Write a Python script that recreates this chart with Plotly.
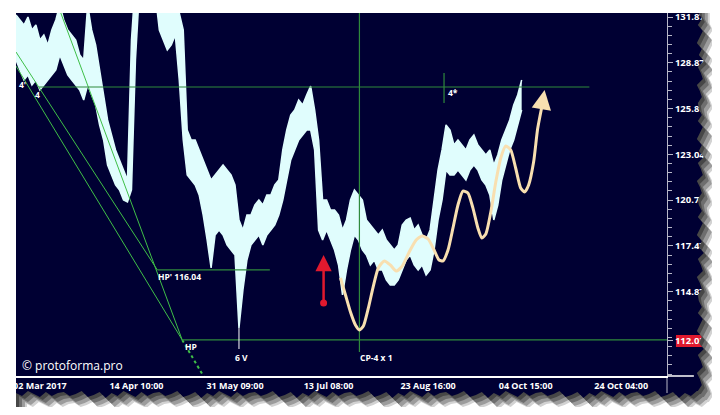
import plotly.graph_objects as go

# ---------------- data ----------------
price_high = [131.93, 131.61, 131.29, 131.80, 130.97, 131.29, 130.33, 130.65, 130.01, 130.97,
              131.61, 132.57, 131.61, 130.97, 130.65, 130.33, 129.37, 129.05, 132.57, 130.97,
              130.01, 128.41, 126.81, 125.21, 124.25, 123.29, 122.65, 122.01, 121.37, 130.33,
              134.17, 135.45, 136.09, 136.73, 136.09, 135.45, 132.89, 132.57, 132.25, 132.57,
              132.25, 132.06, 130.97, 124.57, 123.93, 123.93, 123.29, 122.65, 122.01, 121.37,
              121.69, 122.01, 122.33, 122.01, 121.69, 121.05, 118.81, 118.17, 119.13, 119.13,
              119.77, 120.09, 119.77, 120.41, 120.41, 121.05, 121.37, 123.29, 124.57, 125.53,
              125.85, 126.49, 126.17, 126.81, 127.38, 125.85, 123.93, 120.09, 120.09, 119.45,
              119.45, 119.13, 118.17, 118.81, 120.09, 120.73, 120.41, 120.09, 118.81, 118.49,
              118.17, 117.85, 118.17, 117.53, 117.21, 116.89, 117.21, 118.49, 118.81, 118.94,
              118.17, 118.49, 117.85, 117.53, 118.17, 120.09, 122.01, 123.29, 124.89, 124.57,
              123.61, 123.93, 123.61, 123.29, 123.93, 124.25, 123.61, 123.29, 122.97, 123.29,
              122.33, 122.97, 123.93, 124.57, 125.21, 126.17, 126.81, 127.77]
price_low = [129.05, 128.41, 127.77, 128.09, 127.45, 127.77, 127.13, 127.45, 127.77, 128.09,
             128.41, 129.37, 128.73, 128.09, 127.77, 127.45, 127.13, 126.49, 127.45, 126.81,
             126.17, 124.89, 123.93, 122.33, 121.69, 121.05, 120.73, 120.09, 119.96, 120.73,
             129.05, 133.53, 134.17, 134.17, 133.53, 133.21, 130.97, 130.33, 129.69, 130.01,
             130.65, 127.77, 123.93, 121.69, 121.37, 121.05, 120.41, 119.13, 117.53, 115.74,
             117.85, 118.17, 117.85, 117.21, 116.89, 116.57, 111.90, 114.33, 116.25, 117.21,
             117.53, 117.85, 117.21, 117.85, 118.17, 118.49, 119.13, 120.09, 121.37, 122.65,
             123.29, 123.93, 124.25, 124.57, 124.57, 123.29, 118.17, 117.53, 118.17, 117.53,
             116.89, 115.93, 114.01, 115.61, 116.89, 117.85, 117.53, 116.89, 116.57, 115.93,
             116.25, 115.61, 115.61, 114.97, 114.65, 114.65, 114.97, 115.61, 116.25, 116.57,
             115.93, 115.61, 115.93, 115.29, 115.61, 116.89, 118.81, 120.09, 122.01, 121.69,
             121.69, 122.01, 121.69, 121.37, 122.01, 122.33, 122.01, 121.37, 121.05, 120.41,
             118.81, 119.77, 121.37, 122.33, 123.29, 123.93, 124.89, 125.85]
bars = list(range(len(price_high)))

x_tick_pos = [6, 30.25, 55, 78.5, 103.5, 128, 152]
x_tick_text = ["02 Mar 2017", "14 Apr 10:00", "31 May 09:00", "13 Jul 08:00",
               "23 Aug 16:00", "04 Oct 15:00", "24 Oct 04:00"]
y_tick_pos = [131.80, 128.87, 125.94, 123.01, 120.08, 117.15, 114.22, 111.10]
y_tick_text = ["131.87", "128.87", "125.87", "123.04", "120.74", "117.47", "114.87", "112.03"]

# forecast path (cream)
forecast_x = [81.5, 82.75, 84.0, 85.25, 86.25, 87.25, 88.5, 89.75, 91.0, 92.5, 94.0, 95.5, 97.0,
              98.75, 100.5, 102.0, 103.5, 105.0, 106.25, 107.25, 108.5, 109.75, 111.0, 112.25,
              113.5, 114.75, 116.0, 117.0, 118.0, 119.25, 120.5, 121.75, 123.0, 124.25, 125.5,
              126.75, 127.75, 128.75, 130.0, 131.0, 132.0]
forecast_y = [115.10, 114.01, 112.92, 112.09, 111.77, 112.02, 113.18, 114.58, 115.74, 116.19,
              115.93, 115.54, 115.86, 116.76, 117.53, 117.78, 117.59, 116.89, 116.25, 116.19,
              116.89, 118.30, 119.77, 120.66, 120.54, 119.58, 118.30, 117.66, 117.91, 119.32,
              121.24, 122.78, 123.54, 123.29, 122.12, 120.86, 120.60, 121.05, 122.52, 124.63,
              125.98]
forecast_tip = (132.75, 127.13)

# construction lines (x in bars, y in price)
diag_lines = [([0, 41.75], [128.66, 111.13]),
              ([0, 35.5], [129.56, 115.61]),
              ([11.25, 41.75], [132.06, 111.13])]
diag_dotted = ([41.75, 48.5], [111.13, 108.2])
horiz_lines = [([5.75, 144], [127.32, 127.32]),
               ([35.5, 63.75], [115.61, 115.61]),
               ([41.75, 163.5], [111.13, 111.13])]
vert_lines = [([86.25, 86.25], [132.1, 110.36]),
              ([107.5, 107.5], [128.22, 126.30])]
low_marker = ([56, 56], [111.90, 110.55])

signal_dot = (77.25, 113.50)
signal_tip = (77.25, 116.57)

labels = [(0.5, 127.45, "4'"), (4.5, 126.87, "4"), (35.5, 115.22, "HP' 116.04"),
          (42.25, 110.74, "HP"), (54.75, 110.04, "6 V"), (86.25, 110.04, "CP-4 x 1"),
          (108.25, 126.94, "4*")]

# ---------------- figure ----------------
NAVY = "#000033"
CYAN = "#e0fdfd"
CREAM = "#f8dfb0"
GREEN_D = "#3fbf48"
GREEN_H = "#2f8a3c"
RED = "#e0192e"

fig = go.Figure()

fig.add_trace(go.Scatter(x=bars, y=price_low, mode="lines",
                         line=dict(color=CYAN, width=1.5), hoverinfo="skip"))
fig.add_trace(go.Scatter(x=bars, y=price_high, mode="lines", fill="tonexty",
                         fillcolor=CYAN, line=dict(color=CYAN, width=1.5), hoverinfo="skip"))

for xs, ys in diag_lines:
    fig.add_trace(go.Scatter(x=xs, y=ys, mode="lines", line=dict(color=GREEN_D, width=1)))
fig.add_trace(go.Scatter(x=diag_dotted[0], y=diag_dotted[1], mode="lines",
                         line=dict(color=GREEN_D, width=2, dash="dot")))
for xs, ys in horiz_lines + vert_lines:
    fig.add_trace(go.Scatter(x=xs, y=ys, mode="lines", line=dict(color=GREEN_H, width=1.2)))
fig.add_trace(go.Scatter(x=low_marker[0], y=low_marker[1], mode="lines",
                         line=dict(color="white", width=1)))

fig.add_trace(go.Scatter(x=forecast_x, y=forecast_y, mode="lines",
                         line=dict(color=CREAM, width=3, shape="spline", smoothing=0.6)))

fig.add_trace(go.Scatter(x=[signal_dot[0]], y=[signal_dot[1]], mode="markers",
                         marker=dict(color=RED, size=7)))

fig.add_annotation(x=signal_tip[0], y=signal_tip[1], ax=signal_dot[0], ay=signal_dot[1],
                   axref="x", ayref="y", xref="x", yref="y", text="", showarrow=True,
                   arrowhead=2, arrowsize=1.3, arrowwidth=2.5, arrowcolor=RED, standoff=0)
fig.add_annotation(x=forecast_tip[0], y=forecast_tip[1], ax=forecast_x[-1], ay=forecast_y[-1],
                   axref="x", ayref="y", xref="x", yref="y", text="", showarrow=True,
                   arrowhead=2, arrowsize=1.3, arrowwidth=3, arrowcolor=CREAM, standoff=0)

for lx, ly, lt in labels:
    fig.add_annotation(x=lx, y=ly, text=lt, showarrow=False, xanchor="left", yanchor="middle",
                       font=dict(family="Open Sans", size=8.5, color="white", weight="bold"),
                       borderpad=0)

fig.add_annotation(x=0.006, y=0.03, xref="paper", yref="paper", text="© protoforma.pro",
                   showarrow=False, xanchor="left", yanchor="middle",
                   font=dict(family="Open Sans", size=12, color="white"))

# ---------------- frame decoration ----------------
# page body adds an 8 px offset, so the figure is 704 x 399 placed at (8, 8)
OFF = 8
L, T, W, H = 13, 13, 654, 363   # plot area in page pixels


def P(x, y):
    return f"{(x - L) / W:.5f},{(T + H - y) / H:.5f}"


jag = [0, 3, -1, 4, 1, -2, 3, 0, 5, -1, 2, 4, -2, 1, 3, -1]
right_edge = [(699 + jag[k % len(jag)], y) for k, y in enumerate(range(13, 394, 6))]
bottom_edge = [(x, 393 + jag[(k + 5) % len(jag)]) for k, x in enumerate(range(697, 12, -6))]


def torn(o):
    pts = [(x + o, y + o) for x, y in right_edge] + [(x + o, y + o) for x, y in bottom_edge]
    path = f"M {P(730, 13)} L {P(right_edge[0][0] + o, 13)} "
    path += " ".join(f"L {P(x, y)}" for x, y in pts)
    path += f" L {P(13 + o, 425)} L {P(730, 425)} Z"
    return path


shapes = [
    dict(type="rect", xref="paper", yref="paper", x0=0, x1=(710 - L) / W, y0=(T + H - 400) / H,
         y1=1, fillcolor=NAVY, line=dict(width=0), layer="below"),
    dict(type="rect", xref="paper", yref="paper", x0=(676 - L) / W, x1=(712 - L) / W,
         y0=(T + H - 347) / H, y1=(T + H - 335) / H, fillcolor=RED, line=dict(width=0),
         layer="below"),
    dict(type="line", xref="paper", yref="paper", x0=1, x1=(694 - L) / W, y0=0, y1=0,
         line=dict(color="white", width=1.5), layer="below"),
    dict(type="line", xref="paper", yref="paper", x0=1, x1=1, y0=0, y1=(T + H - 393) / H,
         line=dict(color="#b8b8c8", width=1), layer="below"),
]
for o, col in [(0, "#474747"), (3, "#6e6e6e"), (6, "#9c9c9c"), (9, "#d2d2d2"), (11, "#ffffff")]:
    shapes.append(dict(type="path", xref="paper", yref="paper", path=torn(o), fillcolor=col,
                       line=dict(width=0), layer="above"))

FW, FH = 720 - 2 * OFF, 415 - 2 * OFF
fig.update_layout(
    width=FW, height=FH,
    margin=dict(l=L - OFF, r=FW - (L - OFF) - W, t=T - OFF, b=FH - (T - OFF) - H),
    paper_bgcolor="white", plot_bgcolor=NAVY, showlegend=False, shapes=shapes,
    xaxis=dict(range=[0, 163.5], showgrid=False, zeroline=False, showline=True,
               linecolor="white", linewidth=1.5, tickmode="array", tickvals=x_tick_pos,
               ticktext=x_tick_text, ticks="", ticklabelstandoff=0,
               tickfont=dict(family="Open Sans", size=9, color="white", weight="bold")),
    yaxis=dict(side="right", range=[108.824, 132.056], showgrid=False, zeroline=False,
               showline=True, linecolor="#b8b8c8", linewidth=1, tickmode="array",
               tickvals=y_tick_pos, ticktext=y_tick_text, ticks="outside", ticklen=5,
               tickcolor="#b8b8c8", automargin=False,
               tickfont=dict(family="Open Sans", size=9.5, color="white", weight="bold"),
               minor=dict(ticks="outside", ticklen=4, tickcolor="#b8b8c8", tick0=131.8,
                          dtick=0.586, showgrid=False)),
)

fig.write_html("out.html")
